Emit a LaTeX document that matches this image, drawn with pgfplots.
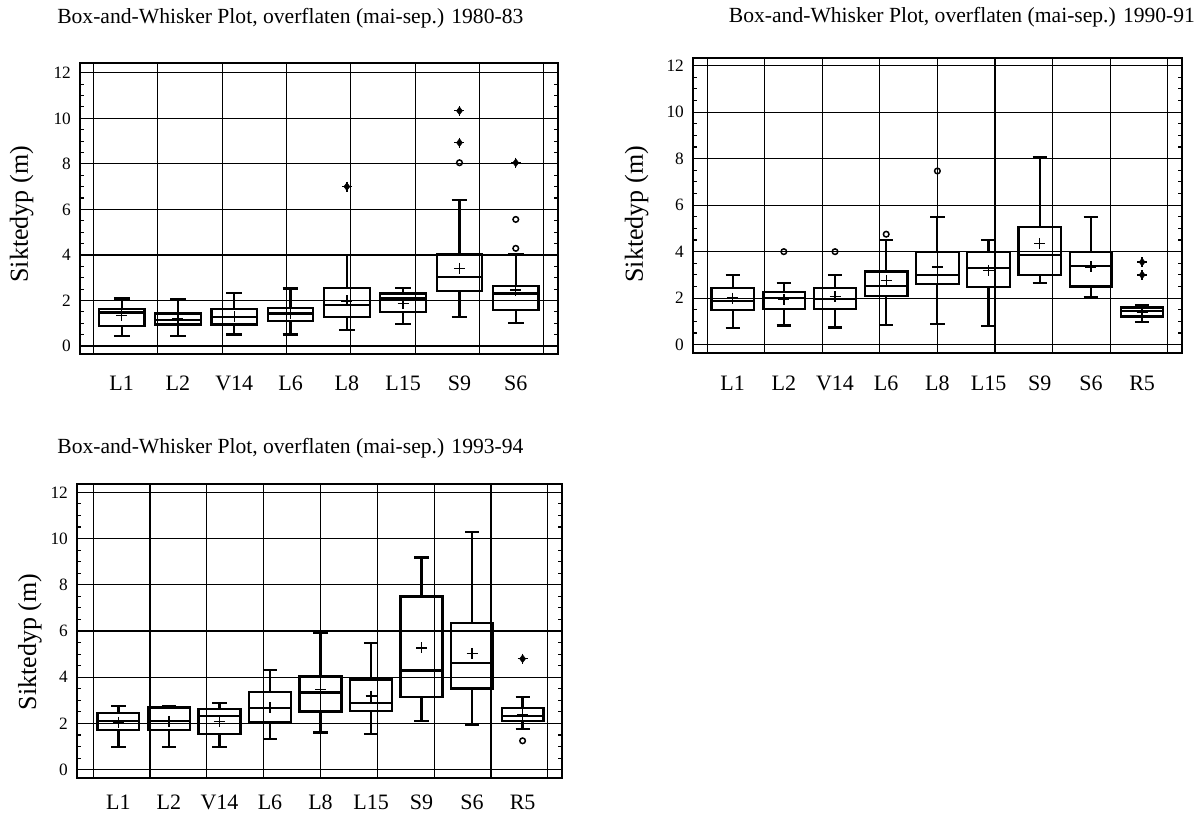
\documentclass[border=0pt]{standalone}
\usepackage{fontspec}
\setmainfont{Liberation Serif}
\usepackage{pgfplots}
\pgfplotsset{compat=1.18}
\usepgfplotslibrary{statistics}

% box: position, lower whisker, lower quartile, median, upper quartile, upper whisker
\newcommand{\bx}[6]{\addplot[black, solid, line width=2.2bp, boxplot prepared={draw direction=y, draw position=#1, lower whisker=#2, lower quartile=#3, median=#4, upper quartile=#5, upper whisker=#6}] coordinates {};}

\pgfplotsset{
  panel/.style={
    scale only axis,
    axis line style={black, line width=2.2bp},
    ytick={0,2,...,12},
    minor y tick num=3,
    ymajorgrids,
    major grid style={black, line width=1.1bp},
    tick align=inside,
    ytick pos=both, yticklabel pos=left,
    major tick length=6bp, minor tick length=4bp,
    every tick/.style={black, line width=1.1bp},
    xtick style={draw=none},
    extra x tick style={xmajorgrids=true, major tick length=0pt},
    extra x tick labels={},
    /pgf/number format/assume math mode=true,
    yticklabel style={font=\fontsize{17.3bp}{20bp}\selectfont, anchor=east, inner sep=0pt, xshift=-9bp},
    xticklabel style={font=\fontsize{22bp}{26bp}\selectfont, anchor=base, inner sep=0pt},
    ylabel={Siktedyp (m)},
    ylabel style={font=\fontsize{26bp}{30bp}\selectfont, anchor=center},
    title style={font=\fontsize{21.6bp}{25bp}\selectfont, anchor=base},
    boxplot/whisker extend=0.28,
  },
  mean/.style={only marks, mark=+, mark size=5.5bp, line width=1.4bp, black},
  near/.style={only marks, mark=o, mark size=2.8bp, line width=1.5bp, black},
  far/.style={only marks, mark=diamond*, mark size=4bp, black},
  farplus/.style={only marks, mark=+, mark size=5bp, line width=1.3bp, black},
}

\begin{document}
\begin{tikzpicture}
\useasboundingbox (0,0) rectangle (1195bp,-818bp);

% ---------------- Panel 1: 1980-83
\begin{axis}[panel,
  at={(80bp,-354bp)}, anchor=south west, width=478bp, height=291bp,
  xmin=0.26, xmax=8.75, ymin=-0.35, ymax=12.43,
  xtick={1,...,8}, xticklabels={L1,L2,V14,L6,L8,L15,S9,S6},
  xticklabel style={yshift=-36bp},
  extra x ticks={0.5,1.6429,2.7857,3.9286,5.0714,6.2143,7.3571,8.5},
  boxplot/box extend=0.81,
  ylabel style={at={(rel axis cs:-0.122,0.48)}},
  title={Box-and-Whisker Plot, overflaten (mai-sep.) 1980-83},
  title style={at={(rel axis cs:0.44,1.115)}},
]
\bx{1}{0.44}{0.89}{1.47}{1.62}{2.09}
\bx{2}{0.44}{0.95}{1.14}{1.43}{2.05}
\bx{3}{0.51}{0.95}{1.29}{1.62}{2.34}
\bx{4}{0.51}{1.11}{1.43}{1.68}{2.53}
\bx{5}{0.70}{1.29}{1.80}{2.56}{4.00}
\bx{6}{0.97}{1.48}{2.09}{2.31}{2.56}
\bx{7}{1.29}{2.43}{3.04}{4.02}{6.41}
\bx{8}{1.02}{1.58}{2.31}{2.63}{4.02}
\addplot[mean] coordinates {(1,1.33) (2,1.20) (3,1.29) (4,1.43) (5,1.98) (6,1.87) (7,3.41) (8,2.46)};
\addplot[near] coordinates {(7,8.05) (8,5.56) (8,4.29)};
\addplot[far] coordinates {(5,7.0) (7,10.33) (7,8.93) (8,8.05)};
\addplot[farplus] coordinates {(5,7.0) (7,10.33) (7,8.93) (8,8.05)};
\end{axis}

% ---------------- Panel 2: 1990-91
\begin{axis}[panel,
  at={(693bp,-353bp)}, anchor=south west, width=489bp, height=295bp,
  xmin=0.225, xmax=9.78, ymin=-0.36, ymax=12.33,
  xtick={1,...,9}, xticklabels={L1,L2,V14,L6,L8,L15,S9,S6,R5},
  xticklabel style={yshift=-37bp},
  extra x ticks={0.5,1.625,2.75,3.875,5,6.125,7.25,8.375,9.5},
  boxplot/box extend=0.83,
  ylabel style={at={(rel axis cs:-0.115,0.47)}},
  title={Box-and-Whisker Plot, overflaten (mai-sep.) 1990-91},
  title style={at={(rel axis cs:0.55,1.10)}},
]
\bx{1}{0.72}{1.50}{1.86}{2.42}{3.00}
\bx{2}{0.82}{1.53}{2.00}{2.26}{2.65}
\bx{3}{0.74}{1.53}{1.98}{2.43}{3.00}
\bx{4}{0.83}{2.10}{2.53}{3.15}{4.51}
\bx{5}{0.89}{2.62}{2.98}{3.99}{5.50}
\bx{6}{0.79}{2.47}{3.29}{3.99}{4.49}
\bx{7}{2.65}{2.98}{3.84}{5.06}{8.06}
\bx{8}{2.04}{2.50}{3.37}{3.99}{5.50}
\bx{9}{0.96}{1.21}{1.45}{1.60}{1.68}
\addplot[mean] coordinates {(1,2.0) (2,1.93) (3,2.07) (4,2.76) (5,3.34) (6,3.19) (7,4.35) (8,3.34) (9,1.38)};
\addplot[near] coordinates {(2,4.0) (3,4.0) (4,4.75) (5,7.47)};
\addplot[far] coordinates {(9,3.55) (9,3.0)};
\addplot[farplus] coordinates {(9,3.55) (9,3.0)};
\end{axis}

% ---------------- Panel 3: 1993-94
\begin{axis}[panel,
  at={(77bp,-778bp)}, anchor=south west, width=485bp, height=294bp,
  xmin=0.18, xmax=9.78, ymin=-0.36, ymax=12.36,
  xtick={1,...,9}, xticklabels={L1,L2,V14,L6,L8,L15,S9,S6,R5},
  xticklabel style={yshift=-31bp},
  extra x ticks={0.5,1.625,2.75,3.875,5,6.125,7.25,8.375,9.5},
  boxplot/box extend=0.83,
  ylabel style={at={(rel axis cs:-0.097,0.463)}},
  title={Box-and-Whisker Plot, overflaten (mai-sep.) 1993-94},
  title style={at={(rel axis cs:0.44,1.085)}},
]
\bx{1}{0.98}{1.73}{2.09}{2.45}{2.74}
\bx{2}{0.98}{1.73}{2.12}{2.69}{2.74}
\bx{3}{0.98}{1.56}{2.31}{2.62}{2.88}
\bx{4}{1.34}{2.05}{2.67}{3.36}{4.32}
\bx{5}{1.61}{2.52}{3.34}{4.03}{5.91}
\bx{6}{1.55}{2.53}{2.89}{3.90}{5.49}
\bx{7}{2.12}{3.14}{4.29}{7.49}{9.18}
\bx{8}{1.95}{3.51}{4.62}{6.33}{10.30}
\bx{9}{1.76}{2.10}{2.31}{2.67}{3.15}
\addplot[mean] coordinates {(1,2.05) (2,2.09) (3,2.09) (4,2.67) (5,3.46) (6,3.18) (7,5.27) (8,5.03) (9,2.38)};
\addplot[near] coordinates {(9,1.25)};
\addplot[far] coordinates {(9,4.8)};
\addplot[farplus] coordinates {(9,4.8)};
\end{axis}
\end{tikzpicture}
\end{document}
